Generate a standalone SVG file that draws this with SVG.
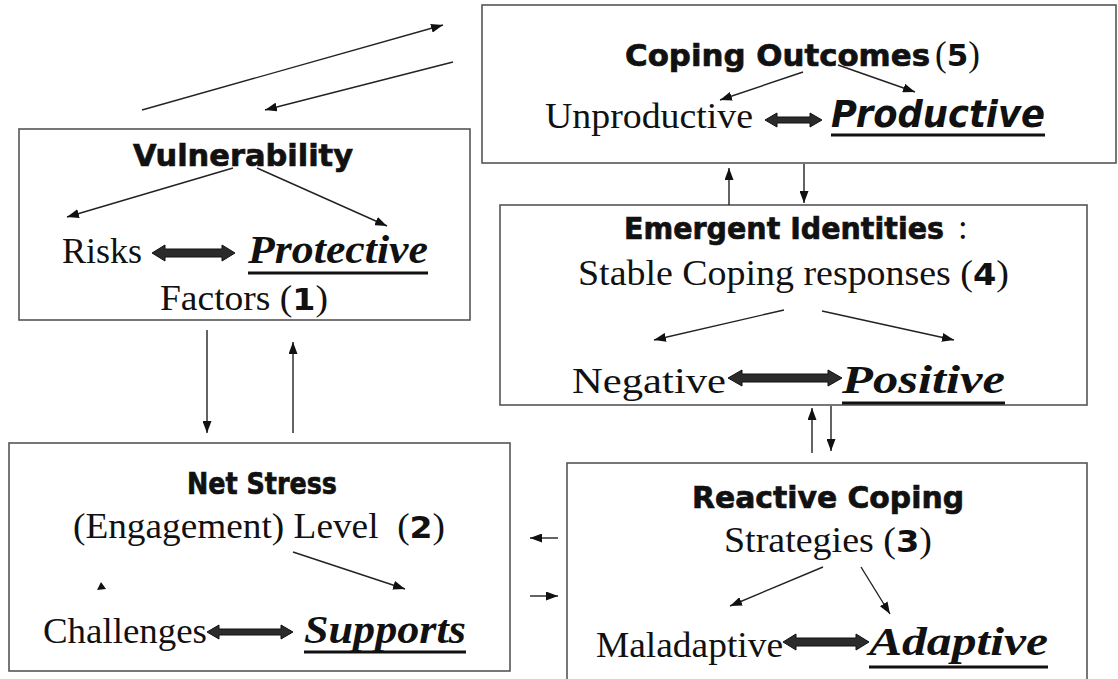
<svg xmlns="http://www.w3.org/2000/svg" width="1118" height="679" viewBox="0 0 1118 679">
<style>
.box{fill:none;stroke:#555;stroke-width:1.6}
.title{font-family:"DejaVu Sans",sans-serif;font-weight:bold;font-size:31px;fill:#111;stroke:#111;stroke-width:0.7}
.ser{font-family:"Liberation Serif",serif;font-size:35px;fill:#111;stroke:none;font-weight:normal}
.bi{font-family:"Liberation Serif",serif;font-weight:bold;font-style:italic;font-size:40px;fill:#111}
.bis{font-family:"DejaVu Sans",sans-serif;font-weight:bold;font-style:italic;font-size:38px;fill:#111}
.num{font-family:"DejaVu Sans",sans-serif;font-weight:bold;font-size:31px}
.ul{stroke:#111;stroke-width:3}
.c line{stroke:#222;stroke-width:1.4;marker-end:url(#ah)}
.dbl{fill:#2b2b2b;stroke:#111;stroke-width:1}
</style>
<defs>
<marker id="ah" markerUnits="userSpaceOnUse" markerWidth="12" markerHeight="9" refX="12" refY="4.5" orient="auto">
<path d="M0,0 L12,4.5 L0,9 z" fill="#111"/>
</marker>
</defs>
<rect width="1118" height="679" fill="#fff"/>

<g id="coping-outcomes">
<rect class="box" x="482" y="5" width="634" height="158"/>
<text class="title" x="625" y="66" textLength="305" lengthAdjust="spacingAndGlyphs">Coping Outcomes</text>
<text class="ser" x="935" y="66">(<tspan class="num">5</tspan>)</text>
<text class="ser" x="545" y="128" textLength="208" lengthAdjust="spacingAndGlyphs">Unproductive</text>
<polygon class="dbl" points="765,120 777,113 777,117 810,117 810,113 822,120 810,127 810,123 777,123 777,127"/>
<text class="bis" x="831" y="127" textLength="214" lengthAdjust="spacingAndGlyphs">Productive</text>
<line class="ul" x1="831" y1="135" x2="1045" y2="135"/>
</g>

<g id="vulnerability">
<rect class="box" x="19" y="129" width="451" height="191"/>
<text class="title" x="133" y="166" textLength="220" lengthAdjust="spacingAndGlyphs">Vulnerability</text>
<text class="ser" x="62" y="263" textLength="80" lengthAdjust="spacingAndGlyphs">Risks</text>
<polygon class="dbl" points="152,253 165,245 165,249 222,249 222,245 235,253 222,261 222,257 165,257 165,261"/>
<text class="bi" x="248" y="263" textLength="180" lengthAdjust="spacingAndGlyphs">Protective</text>
<line class="ul" x1="248" y1="273" x2="428" y2="273"/>
<text class="ser" x="160" y="310" textLength="168" lengthAdjust="spacingAndGlyphs">Factors (<tspan class="num">1</tspan>)</text>
</g>

<g id="emergent-identities">
<rect class="box" x="500" y="205" width="587" height="200"/>
<text class="title" x="624" y="239" font-size="28.5" textLength="320" lengthAdjust="spacingAndGlyphs">Emergent Identities</text>
<text class="ser" x="958" y="239">:</text>
<text class="ser" x="578" y="285" textLength="431" lengthAdjust="spacingAndGlyphs">Stable Coping responses (<tspan class="num">4</tspan>)</text>
<text class="ser" x="572" y="393" font-size="42" textLength="154" lengthAdjust="spacingAndGlyphs">Negative</text>
<polygon class="dbl" points="728,378 742,370 742,374 828,374 828,370 842,378 828,386 828,382 742,382 742,386"/>
<text class="bi" x="842" y="393" font-size="44" textLength="163" lengthAdjust="spacingAndGlyphs">Positive</text>
<line class="ul" x1="842" y1="403" x2="1005" y2="403"/>
</g>

<g id="net-stress">
<rect class="box" x="9" y="443" width="501" height="228"/>
<text class="title" x="187" y="494" textLength="150" lengthAdjust="spacingAndGlyphs">Net Stress</text>
<text class="ser" x="73" y="538" textLength="372" lengthAdjust="spacingAndGlyphs">(Engagement) Level &#160;(<tspan class="num">2</tspan>)</text>
<polygon points="97,590 101,582 106,589" fill="#111"/>
<text class="ser" x="43" y="643" font-size="37" textLength="164" lengthAdjust="spacingAndGlyphs">Challenges</text>
<polygon class="dbl" points="207,632 219,625 219,629 281,629 281,625 293,632 281,639 281,635 219,635 219,639"/>
<text class="bi" x="304" y="643" textLength="162" lengthAdjust="spacingAndGlyphs">Supports</text>
<line class="ul" x1="304" y1="652" x2="466" y2="652"/>
</g>

<g id="reactive-coping">
<rect class="box" x="567" y="463" width="520" height="230"/>
<text class="title" x="692" y="508" textLength="272" lengthAdjust="spacingAndGlyphs">Reactive Coping</text>
<text class="ser" x="724" y="552" textLength="208" lengthAdjust="spacingAndGlyphs">Strategies (<tspan class="num">3</tspan>)</text>
<text class="ser" x="596" y="657" font-size="37" textLength="187" lengthAdjust="spacingAndGlyphs">Maladaptive</text>
<polygon class="dbl" points="783,642 796,634 796,638 856,638 856,634 869,642 856,650 856,646 796,646 796,650"/>
<text class="bi" x="869" y="655" font-size="44" textLength="179" lengthAdjust="spacingAndGlyphs">Adaptive</text>
<line class="ul" x1="869" y1="667" x2="1048" y2="667"/>
</g>

<g id="connectors" class="c">
<line x1="142" y1="110" x2="443" y2="25"/>
<line x1="453" y1="62" x2="265" y2="110"/>
<line x1="233" y1="168" x2="67" y2="217"/>
<line x1="257" y1="168" x2="387" y2="226"/>
<line x1="207" y1="330" x2="207" y2="433"/>
<line x1="293" y1="433" x2="293" y2="342"/>
<line x1="803" y1="72" x2="720" y2="100"/>
<line x1="838" y1="65" x2="915" y2="92"/>
<line x1="729" y1="205" x2="729" y2="168"/>
<line x1="804" y1="164" x2="804" y2="203"/>
<line x1="784" y1="310" x2="654" y2="340"/>
<line x1="822" y1="311" x2="954" y2="340"/>
<line x1="812" y1="453" x2="812" y2="408"/>
<line x1="831" y1="406" x2="831" y2="451"/>
<line x1="558" y1="538" x2="530" y2="538"/>
<line x1="530" y1="596" x2="558" y2="596"/>
<line x1="293" y1="552" x2="405" y2="589"/>
<line x1="823" y1="567" x2="730" y2="606"/>
<line x1="861" y1="567" x2="890" y2="614"/>
</g>
</svg>
